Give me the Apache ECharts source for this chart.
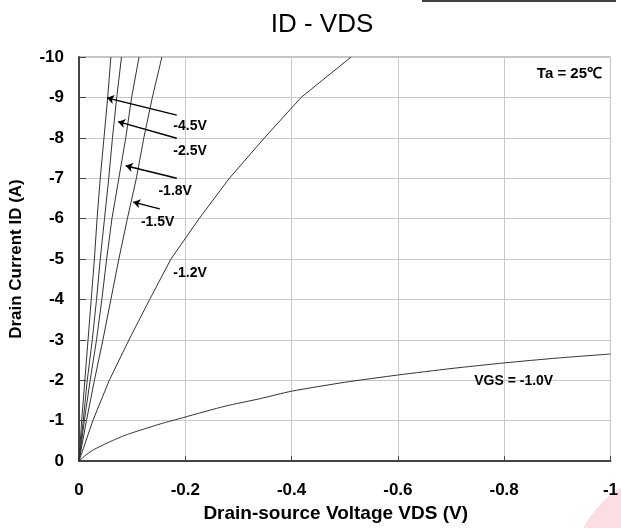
<!DOCTYPE html>
<html><head><meta charset="utf-8">
<script src="https://cdn.jsdelivr.net/npm/echarts@6/dist/echarts.min.js"></script>
<style>html,body{margin:0;padding:0;background:#fff}#c{width:621px;height:528px}</style>
</head><body><div id="c"></div>
<script>
// Drain current steps (A)
const idSteps = [0, -1, -2, -3, -4, -5, -6, -7, -8, -9, -10];
// VDS (V) at each ID step, per VGS curve
const vdsVgs45 = [0, -0.005, -0.011, -0.017, -0.023, -0.029, -0.034, -0.040, -0.047, -0.054, -0.060];
const vdsVgs25 = [0, -0.008, -0.0155, -0.025, -0.033, -0.040, -0.048, -0.056, -0.063, -0.071, -0.080];
const vdsVgs18 = [0, -0.010, -0.021, -0.033, -0.043, -0.052, -0.062, -0.075, -0.088, -0.099, -0.113];
const vdsVgs15 = [0, -0.014, -0.029, -0.045, -0.060, -0.075, -0.091, -0.108, -0.122, -0.138, -0.156];
const vdsVgs12 = [0, -0.026, -0.057, -0.094, -0.133, -0.173, -0.226, -0.283, -0.349, -0.418, -0.512];
// VGS = -1.0V curve: ID as a function of VDS
const vdsVgs10 = [0, -0.01, -0.026, -0.06, -0.091, -0.153, -0.197, -0.275, -0.339, -0.4, -0.5, -0.6, -0.7, -0.8, -0.9, -1.0];
const idVgs10  = [0, -0.12, -0.27, -0.49, -0.66, -0.92, -1.08, -1.36, -1.54, -1.73, -1.95, -2.13, -2.29, -2.43, -2.55, -2.65];
const curveNames = ['-4.5V', '-2.5V', '-1.8V', '-1.5V', '-1.2V', 'VGS = -1.0V'];
const xTicks = [0, -0.2, -0.4, -0.6, -0.8, -1];
const yTicks = [0, -1, -2, -3, -4, -5, -6, -7, -8, -9, -10];

// annotation placement (data coordinates)
const labelPos = [[-0.209, -8.29], [-0.209, -7.68], [-0.181, -6.69], [-0.148, -5.91], [-0.209, -4.66], [-0.818, -1.99]];
const arrowPos = [
  [[-0.184, -8.56], [-0.0526, -8.99]],
  [[-0.184, -7.99], [-0.0736, -8.40]],
  [[-0.184, -7.00], [-0.0879, -7.31]],
  [[-0.152, -6.24], [-0.102, -6.41]],
  null, null
];

const steep = [vdsVgs45, vdsVgs25, vdsVgs18, vdsVgs15, vdsVgs12];
const curves = steep.map(v => v.map((x, i) => [x, idSteps[i]]));
curves.push(vdsVgs10.map((x, i) => [x, idVgs10[i]]));

const FONT = 'Liberation Sans, Arial, sans-serif';
const series = curves.map((d, k) => {
  const s = {
    name: curveNames[k], type: 'line', data: d, showSymbol: false, smooth: k === 5 ? 0.2 : false,
    lineStyle: { color: '#333', width: 1 }, silent: true, clip: true,
    markPoint: {
      symbol: 'circle', symbolSize: 1, itemStyle: { color: 'rgba(0,0,0,0)' },
      data: [{ coord: labelPos[k], label: { show: true, formatter: curveNames[k], color: '#000', fontWeight: 'bold', fontSize: 14, fontFamily: FONT, position: 'inside' } }]
    }
  };
  if (arrowPos[k]) {
    s.markLine = {
      silent: true, symbol: ['none', 'arrow'], symbolSize: 7,
      lineStyle: { color: '#000', width: 1.4, type: 'solid' }, label: { show: false },
      data: [[{ coord: arrowPos[k][0] }, { coord: arrowPos[k][1] }]]
    };
  }
  return s;
});

const chart = echarts.init(document.getElementById('c'), null, { renderer: 'canvas' });
chart.setOption({
  animation: false,
  backgroundColor: '#fff',
  title: { text: 'ID - VDS', left: 317, top: 7, textAlign: 'center',
    textStyle: { fontFamily: FONT, fontSize: 26, fontWeight: 'normal', color: '#000' } },
  grid: { left: 77.7, right: 5.5, top: 57, bottom: 66.5, show: true, borderColor: '#888', borderWidth: 1 },
  xAxis: {
    type: 'value', min: -1, max: 0, interval: 0.2, inverse: true,
    name: 'Drain-source Voltage VDS (V)', nameLocation: 'middle', nameGap: 40,
    nameTextStyle: { fontFamily: FONT, fontSize: 19, fontWeight: 'bold', color: '#000', padding: [0, 18, 0, 0] },
    axisLine: { lineStyle: { color: '#444', width: 2 } },
    axisTick: { inside: true, length: 5, lineStyle: { color: '#444', width: 1 } },
    axisLabel: { margin: 21, fontFamily: FONT, fontSize: 17, fontWeight: 'bold', color: '#000',
      formatter: v => { const r = Math.round(v * 10) / 10; return r === 0 ? '0' : String(r); } },
    splitLine: { show: true, lineStyle: { color: '#c8c8c8', width: 1 } }
  },
  yAxis: {
    type: 'value', min: -10, max: 0, interval: 1, inverse: true,
    name: 'Drain Current ID (A)', nameLocation: 'middle', nameGap: 54, nameRotate: 90,
    nameTextStyle: { fontFamily: FONT, fontSize: 17, fontWeight: 'bold', color: '#000' },
    axisLine: { show: true, lineStyle: { color: '#444', width: 2 } },
    axisTick: { show: true, inside: true, length: 7, lineStyle: { color: '#444', width: 1 } },
    axisLabel: { margin: 15, fontFamily: FONT, fontSize: 17, fontWeight: 'bold', color: '#000',
      formatter: v => String(Math.round(v)) },
    splitLine: { show: true, lineStyle: { color: '#c8c8c8', width: 1 } }
  },
  graphic: [
    { type: 'line', shape: { x1: 422, y1: 1, x2: 616, y2: 1 }, style: { stroke: '#000', lineWidth: 1.5 }, silent: true },
    { type: 'circle', shape: { cx: 680, cy: 580, r: 110 }, style: { fill: '#fcdde4' }, silent: true, z: -1 },
    { type: 'text', right: 19, top: 66, style: { text: 'Ta = 25℃', font: 'bold 15px ' + FONT, fill: '#000' }, silent: true }
  ],
  series: series
});
</script></body></html>
